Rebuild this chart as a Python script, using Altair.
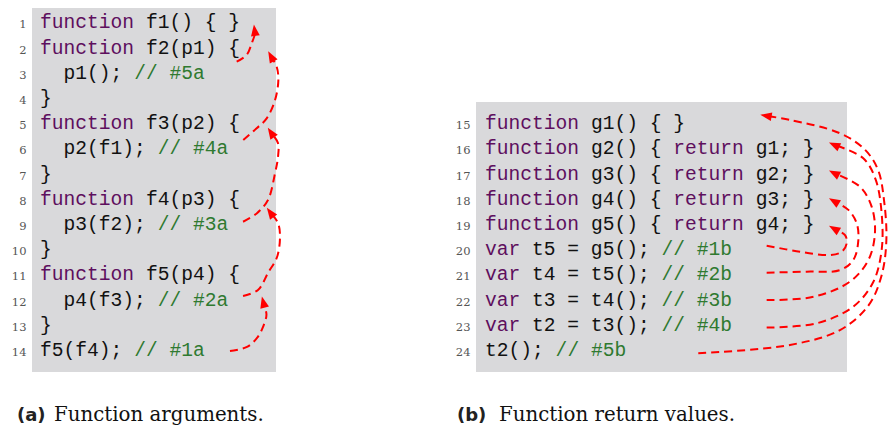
import math
import altair as alt
import pandas as pd

# ---------------- data ----------------
NUM_A = list(range(1, 15))
NUM_B = list(range(15, 25))

LINES_A = [
    [("kw", "function"), ("tx", " f1() { }")],
    [("kw", "function"), ("tx", " f2(p1) {")],
    [("tx", "  p1(); "), ("cm", "// #5a")],
    [("tx", "}")],
    [("kw", "function"), ("tx", " f3(p2) {")],
    [("tx", "  p2(f1); "), ("cm", "// #4a")],
    [("tx", "}")],
    [("kw", "function"), ("tx", " f4(p3) {")],
    [("tx", "  p3(f2); "), ("cm", "// #3a")],
    [("tx", "}")],
    [("kw", "function"), ("tx", " f5(p4) {")],
    [("tx", "  p4(f3); "), ("cm", "// #2a")],
    [("tx", "}")],
    [("tx", "f5(f4); "), ("cm", "// #1a")],
]
LINES_B = [
    [("kw", "function"), ("tx", " g1() { }")],
    [("kw", "function"), ("tx", " g2() { "), ("kw", "return"), ("tx", " g1; }")],
    [("kw", "function"), ("tx", " g3() { "), ("kw", "return"), ("tx", " g2; }")],
    [("kw", "function"), ("tx", " g4() { "), ("kw", "return"), ("tx", " g3; }")],
    [("kw", "function"), ("tx", " g5() { "), ("kw", "return"), ("tx", " g4; }")],
    [("kw", "var"), ("tx", " t5 = g5(); "), ("cm", "// #1b")],
    [("kw", "var"), ("tx", " t4 = t5(); "), ("cm", "// #2b")],
    [("kw", "var"), ("tx", " t3 = t4(); "), ("cm", "// #3b")],
    [("kw", "var"), ("tx", " t2 = t3(); "), ("cm", "// #4b")],
    [("tx", "t2(); "), ("cm", "// #5b")],
]

CAPTION_TAGS = ["(a)", "(b)"]
CAPTION_TEXTS = ["Function arguments.", "Function return values."]

# arrow paths in (column, listing-line) units; last point is the arrow tip
ARROWS_A = [
    ([16.14, 17.59, 18.44, 18.95, 19.24, 18.86], [14.04, 13.88, 13.52, 13.08, 12.60, 11.89]),
    ([17.25, 18.52, 19.37, 20.14, 20.39, 20.22, 19.29], [11.86, 11.62, 10.94, 10.31, 9.51, 8.96, 8.37]),
    ([17.25, 18.41, 19.37, 19.97, 20.22, 20.22, 19.37], [8.91, 8.58, 8.05, 6.98, 6.34, 5.79, 5.19]),
    ([17.27, 18.41, 19.26, 19.97, 20.25, 20.11, 19.40], [5.67, 5.20, 4.81, 4.08, 3.29, 2.76, 2.16]),
    ([16.71, 17.56, 17.99, 18.27, 18.18], [2.56, 2.29, 1.83, 1.43, 1.10]),
]
ARROWS_B = [
    ([23.93, 26.76, 29.31, 30.31, 30.73, 30.59, 29.25], [19.86, 20.10, 20.23, 20.10, 19.77, 19.44, 19.08]),
    ([23.93, 27.33, 30.16, 31.29, 31.72, 31.58, 30.87, 29.25], [20.93, 20.89, 20.83, 20.43, 19.64, 18.97, 18.44, 17.98]),
    ([23.93, 27.90, 31.00, 32.57, 33.13, 32.85, 31.86, 29.25], [22.02, 21.89, 21.29, 20.43, 19.37, 18.31, 17.52, 16.88]),
    ([23.93, 28.18, 31.29, 33.00, 33.70, 33.70, 33.20, 32.14, 29.25], [23.11, 22.94, 22.28, 21.29, 20.03, 18.58, 17.25, 16.39, 15.77]),
    ([18.12, 25.91, 30.16, 32.60, 33.70, 34.10, 33.90, 33.40, 32.30, 30.16, 25.91, 23.42],
     [24.13, 23.80, 23.21, 22.22, 21.03, 19.64, 18.05, 16.86, 16.06, 15.40, 14.87, 14.67]),
]

# ---------------- layout ----------------
W, H = 880, 421
M = 8                      # page margin
CW = 11.77                 # monospace advance
PITCH = 25.2
BASE1 = 28.4               # baseline of first visual row (page px)
MID = 6.0                  # baseline -> text middle
X0 = {"a": 40.0, "b": 485.0}
NUMX = {"a": 26.5, "b": 470.5}
SHIFT = {"a": 0, "b": 10}
BOXES = {"a": (32, 276, 3, 372), "b": (476, 847, 102, 372)}
CAP_TAG_X = {"a": 17, "b": 457}
CAP_TXT_X = {"a": 54, "b": 499}
CAP_BASE = 421.0


def px(panel, col):
    return X0[panel] + col * CW - M


def py_base(panel, line):
    return BASE1 + (line - SHIFT[panel] - 1) * PITCH - M


def py_mid(panel, line):
    return py_base(panel, line) - MID


# code tokens
tok_rows = []
for panel, lines, nums in (("a", LINES_A, NUM_A), ("b", LINES_B, NUM_B)):
    for ln, toks in zip(nums, lines):
        col = 0
        for style, text in toks:
            stripped = text.lstrip(" ")
            lead = len(text) - len(stripped)
            if stripped.strip():
                tok_rows.append({"x": px(panel, col + lead), "y": py_base(panel, ln),
                                 "t": stripped, "s": style})
            col += len(text)
tok_df = pd.DataFrame(tok_rows)

num_df = pd.DataFrame(
    [{"x": NUMX["a"] - M, "y": py_base("a", n), "t": str(n)} for n in NUM_A]
    + [{"x": NUMX["b"] - M, "y": py_base("b", n), "t": str(n)} for n in NUM_B]
)

box_df = pd.DataFrame([
    {"x": BOXES[p][0] - M, "x2": BOXES[p][1] - M,
     "y": max(BOXES[p][2] - M, 0), "y2": BOXES[p][3] - M} for p in ("a", "b")
])

# arrows
HEAD_BACK = 6.0
line_rows, head_rows = [], []
aid = 0
for panel, arrows in (("a", ARROWS_A), ("b", ARROWS_B)):
    for cols, lns in arrows:
        pts = [(px(panel, c), py_mid(panel, l)) for c, l in zip(cols, lns)]
        tx, ty = pts[-1]
        qx, qy = pts[-2]
        dx, dy = tx - qx, ty - qy
        d = math.hypot(dx, dy)
        ux, uy = dx / d, dy / d
        hx, hy = tx - HEAD_BACK * ux, ty - HEAD_BACK * uy
        ang = math.degrees(math.atan2(ux, -uy)) % 360
        pts[-1] = (hx, hy)
        for i, (x, y) in enumerate(pts):
            line_rows.append({"x": x, "y": y, "a": aid, "i": i})
        head_rows.append({"x": hx, "y": hy, "ang": ang})
        aid += 1
line_df = pd.DataFrame(line_rows)
head_df = pd.DataFrame(head_rows)

cap_tag_df = pd.DataFrame([{"x": CAP_TAG_X[p] - M, "y": CAP_BASE - M, "t": t}
                           for p, t in zip(("a", "b"), CAPTION_TAGS)])
cap_txt_df = pd.DataFrame([{"x": CAP_TXT_X[p] - M, "y": CAP_BASE - M, "t": t}
                           for p, t in zip(("a", "b"), CAPTION_TEXTS)])

# ---------------- chart ----------------
xs = alt.Scale(domain=[0, W], nice=False, zero=False)
ys = alt.Scale(domain=[0, H], nice=False, zero=False, reverse=True)
X = alt.X("x:Q", scale=xs, axis=None)
Y = alt.Y("y:Q", scale=ys, axis=None)

boxes = alt.Chart(box_df).mark_rect(color="#d9d9db").encode(
    x=X, x2="x2:Q", y=Y, y2="y2:Q")

code = alt.Chart(tok_df).mark_text(
    font="Liberation Mono", fontSize=19.6, align="left", baseline="alphabetic"
).encode(
    x=X, y=Y, text="t:N",
    color=alt.Color("s:N", scale=alt.Scale(domain=["kw", "tx", "cm"],
                                            range=["#5e0f5e", "#111111", "#2f7a30"]),
                    legend=None),
)

nums = alt.Chart(num_df).mark_text(
    font="DejaVu Serif", fontSize=11.5, align="right", baseline="alphabetic", color="#555555"
).encode(x=X, y=Y, text="t:N")

arrows = alt.Chart(line_df).mark_line(
    color="#ff0000", strokeWidth=2, strokeDash=[8, 5], interpolate="catmull-rom"
).encode(x=X, y=Y, detail="a:N", order="i:Q")

heads = alt.Chart(head_df).mark_point(
    shape="M0,-1L0.7,0.8L-0.7,0.8Z", filled=True, color="#ff0000", size=160, opacity=1
).encode(x=X, y=Y, angle=alt.Angle("ang:Q", scale=None))

cap_tags = alt.Chart(cap_tag_df).mark_text(
    font="DejaVu Sans", fontWeight="bold", fontSize=18, align="left",
    baseline="alphabetic", color="#222222"
).encode(x=X, y=Y, text="t:N")

cap_txts = alt.Chart(cap_txt_df).mark_text(
    font="DejaVu Serif", fontSize=19.8, align="left", baseline="alphabetic", color="#111111"
).encode(x=X, y=Y, text="t:N")

chart = alt.layer(boxes, code, nums, arrows, heads, cap_tags, cap_txts).properties(
    width=W, height=H, padding=0, autosize=alt.AutoSizeParams(type="none"),
    background="white",
).configure_view(stroke=None)

chart.save("out.html", embed_options={"renderer": "svg", "actions": False})
